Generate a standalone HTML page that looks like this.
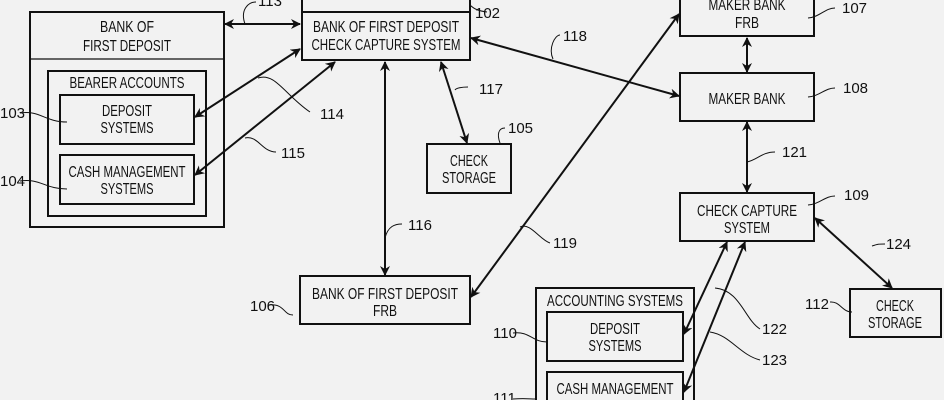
<!DOCTYPE html>
<html><head><meta charset="utf-8"><style>
html,body{margin:0;padding:0;background:#f2f2f2;width:944px;height:400px;overflow:hidden;}
svg{display:block}
text{font-family:"Liberation Sans",sans-serif;font-size:16px;fill:#111;text-anchor:middle;}
.l{font-size:15px;text-anchor:start}
</style></head><body>
<svg width="944" height="400" viewBox="0 0 944 400">
<defs>
<marker id="a" markerWidth="10" markerHeight="10" refX="9" refY="5" orient="auto-start-reverse" markerUnits="userSpaceOnUse"><path d="M0,0 L10,5 L0,10 L3,5 Z" fill="#111"/></marker>
</defs>
<g fill="none" stroke="#111" stroke-width="2">
<rect x="30" y="12" width="194" height="215"/>
<line x1="30" y1="59" x2="224" y2="59" stroke-width="1.2"/>
<rect x="48" y="71" width="158" height="145"/>
<rect x="60" y="95" width="134" height="49"/>
<rect x="60" y="155" width="134" height="49"/>
<rect x="302" y="-20" width="168" height="80"/>
<line x1="302" y1="12" x2="470" y2="12"/>
<rect x="427" y="144" width="84" height="49"/>
<rect x="680" y="-20" width="134" height="56"/>
<rect x="680" y="73" width="134" height="48"/>
<rect x="680" y="193" width="134" height="48"/>
<rect x="300" y="276" width="170" height="48"/>
<rect x="536" y="288" width="158" height="130"/>
<rect x="547" y="312" width="136" height="49"/>
<rect x="547" y="372" width="136" height="49"/>
<rect x="850" y="289" width="91" height="48"/>
</g>
<g stroke="#111" stroke-width="2" marker-start="url(#a)" marker-end="url(#a)">
<line x1="225" y1="24" x2="300" y2="24"/>
<line x1="195" y1="117" x2="300" y2="49"/>
<line x1="195" y1="175" x2="335" y2="62"/>
<line x1="385" y1="62" x2="385" y2="275"/>
<line x1="441" y1="62" x2="467" y2="143"/>
<line x1="471" y1="38" x2="679" y2="96"/>
<line x1="471" y1="297" x2="679" y2="14"/>
<line x1="747" y1="38" x2="747" y2="72"/>
<line x1="747" y1="122" x2="747" y2="192"/>
<line x1="684" y1="334" x2="727" y2="242"/>
<line x1="684" y1="392" x2="745" y2="242"/>
<line x1="815" y1="218" x2="892" y2="288"/>
</g>
<g fill="none" stroke="#111" stroke-width="1">
<path d="M245,24 C240,10 248,2 256,2"/>
<path d="M258,78 C275,72 285,95 310,112"/>
<path d="M245,138 C258,135 262,152 276,152"/>
<path d="M385,238 C388,226 395,224 402,224"/>
<path d="M455,90 C456,88 462,87 468,87"/>
<path d="M500,143 C497,135 498,128 505,128"/>
<path d="M553,59 C548,48 555,35 560,35"/>
<path d="M520,227 C530,222 540,240 550,243"/>
<path d="M470,5 C475,10 480,11 487,12"/>
<path d="M808,18 C820,17 825,8 835,8"/>
<path d="M808,97 C820,96 825,88 835,88"/>
<path d="M808,205 C820,204 825,196 835,196"/>
<path d="M747,162 C757,160 762,152 775,152"/>
<path d="M872,246 C878,244 878,244 885,244"/>
<path d="M20,113 C40,110 45,122 67,122"/>
<path d="M20,181 C40,178 45,189 67,189"/>
<path d="M268,305 C285,303 283,315 293,315"/>
<path d="M513,333 C530,331 532,342 547,342"/>
<path d="M513,399 C525,398 530,399 535,399"/>
<path d="M830,302 C840,301 842,312 852,312"/>
<path d="M715,288 C740,290 745,320 760,329"/>
<path d="M710,332 C730,335 740,355 760,360"/>
</g>
<g lengthAdjust="spacingAndGlyphs">
<text x="127" y="32" textLength="54" lengthAdjust="spacingAndGlyphs">BANK OF</text>
<text x="127" y="51" textLength="88" lengthAdjust="spacingAndGlyphs">FIRST DEPOSIT</text>
<text x="127" y="88" textLength="115" lengthAdjust="spacingAndGlyphs">BEARER ACCOUNTS</text>
<text x="127" y="116" textLength="50" lengthAdjust="spacingAndGlyphs">DEPOSIT</text>
<text x="127" y="133" textLength="53" lengthAdjust="spacingAndGlyphs">SYSTEMS</text>
<text x="127" y="177" textLength="117" lengthAdjust="spacingAndGlyphs">CASH MANAGEMENT</text>
<text x="127" y="194" textLength="53" lengthAdjust="spacingAndGlyphs">SYSTEMS</text>
<text x="386" y="32" textLength="146" lengthAdjust="spacingAndGlyphs">BANK OF FIRST DEPOSIT</text>
<text x="386" y="50" textLength="149" lengthAdjust="spacingAndGlyphs">CHECK CAPTURE SYSTEM</text>
<text x="469" y="166" textLength="38" lengthAdjust="spacingAndGlyphs">CHECK</text>
<text x="469" y="183" textLength="54" lengthAdjust="spacingAndGlyphs">STORAGE</text>
<text x="747" y="10" textLength="77" lengthAdjust="spacingAndGlyphs">MAKER BANK</text>
<text x="747" y="28" textLength="24" lengthAdjust="spacingAndGlyphs">FRB</text>
<text x="747" y="104" textLength="77" lengthAdjust="spacingAndGlyphs">MAKER BANK</text>
<text x="747" y="216" textLength="100" lengthAdjust="spacingAndGlyphs">CHECK CAPTURE</text>
<text x="747" y="233" textLength="46" lengthAdjust="spacingAndGlyphs">SYSTEM</text>
<text x="385" y="299" textLength="146" lengthAdjust="spacingAndGlyphs">BANK OF FIRST DEPOSIT</text>
<text x="385" y="316" textLength="24" lengthAdjust="spacingAndGlyphs">FRB</text>
<text x="615" y="306" textLength="136" lengthAdjust="spacingAndGlyphs">ACCOUNTING SYSTEMS</text>
<text x="615" y="334" textLength="50" lengthAdjust="spacingAndGlyphs">DEPOSIT</text>
<text x="615" y="351" textLength="53" lengthAdjust="spacingAndGlyphs">SYSTEMS</text>
<text x="615" y="394" textLength="117" lengthAdjust="spacingAndGlyphs">CASH MANAGEMENT</text>
<text x="895" y="311" textLength="38" lengthAdjust="spacingAndGlyphs">CHECK</text>
<text x="895" y="328" textLength="54" lengthAdjust="spacingAndGlyphs">STORAGE</text>
</g>
<text class="l" x="258" y="6">113</text>
<text class="l" x="475" y="18">102</text>
<text class="l" x="320" y="119">114</text>
<text class="l" x="281" y="158">115</text>
<text class="l" x="408" y="230">116</text>
<text class="l" x="479" y="94">117</text>
<text class="l" x="508" y="133">105</text>
<text class="l" x="563" y="41">118</text>
<text class="l" x="553" y="248">119</text>
<text class="l" x="842" y="13">107</text>
<text class="l" x="843" y="93">108</text>
<text class="l" x="782" y="157">121</text>
<text class="l" x="844" y="200">109</text>
<text class="l" x="886" y="249">124</text>
<text class="l" x="805" y="309">112</text>
<text class="l" x="762" y="334">122</text>
<text class="l" x="762" y="365">123</text>
<text class="l" x="0" y="118">103</text>
<text class="l" x="0" y="186">104</text>
<text class="l" x="250" y="311">106</text>
<text class="l" x="493" y="338">110</text>
<text class="l" x="493" y="403">111</text>
</svg>
</body></html>
